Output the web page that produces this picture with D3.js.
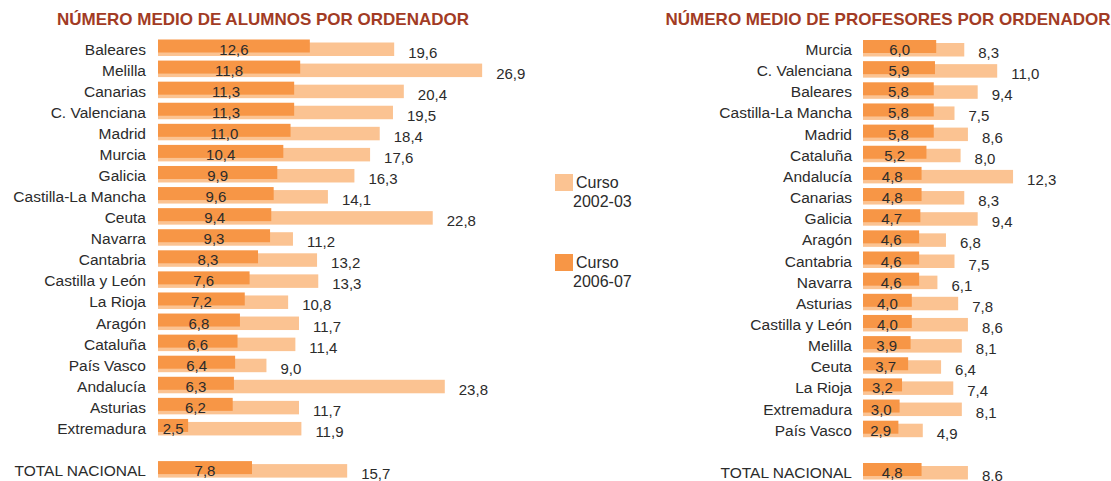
<!DOCTYPE html>
<html>
<head>
<meta charset="utf-8">
<script src="https://cdn.jsdelivr.net/npm/d3@7"></script>
<style>
  body { margin: 0; background: #fff; }
  svg text { font-family: 'Liberation Sans', Arial, sans-serif; fill: #2b2b2b; }
</style>
</head>
<body>
<svg width="1111" height="481"></svg>
<script>
const alumnosRegions = ['Baleares', 'Melilla', 'Canarias', 'C. Valenciana', 'Madrid', 'Murcia', 'Galicia',
  'Castilla-La Mancha', 'Ceuta', 'Navarra', 'Cantabria', 'Castilla y León', 'La Rioja', 'Aragón',
  'Cataluña', 'País Vasco', 'Andalucía', 'Asturias', 'Extremadura']
const alumnos0607 = [12.6, 11.8, 11.3, 11.3, 11.0, 10.4, 9.9, 9.6, 9.4, 9.3, 8.3, 7.6, 7.2, 6.8, 6.6, 6.4, 6.3, 6.2, 2.5]
const alumnos0203 = [19.6, 26.9, 20.4, 19.5, 18.4, 17.6, 16.3, 14.1, 22.8, 11.2, 13.2, 13.3, 10.8, 11.7, 11.4, 9.0, 23.8, 11.7, 11.9]
const alumnosTotal = [7.8, 15.7]

const profesRegions = ['Murcia', 'C. Valenciana', 'Baleares', 'Castilla-La Mancha', 'Madrid', 'Cataluña',
  'Andalucía', 'Canarias', 'Galicia', 'Aragón', 'Cantabria', 'Navarra', 'Asturias', 'Castilla y León',
  'Melilla', 'Ceuta', 'La Rioja', 'Extremadura', 'País Vasco']
const profes0607 = [6.0, 5.9, 5.8, 5.8, 5.8, 5.2, 4.8, 4.8, 4.7, 4.6, 4.6, 4.6, 4.0, 4.0, 3.9, 3.7, 3.2, 3.0, 2.9]
const profes0203 = [8.3, 11.0, 9.4, 7.5, 8.6, 8.0, 12.3, 8.3, 9.4, 6.8, 7.5, 6.1, 7.8, 8.6, 8.1, 6.4, 7.4, 8.1, 4.9]
const profesTotal = [4.8, 8.6]

const seriesNames = ['Curso 2002-03', 'Curso 2006-07']
const totalLabel = 'TOTAL NACIONAL'

const lightColor = '#fbc392'
const darkColor = '#f79646'
const titleColor = '#a23b24'

const svg = d3.select('svg')
const fmt = v => d3.format('.1f')(v).replace('.', ',')

function panel(opts) {
  const rows = opts.regions.map((r, i) => ({ name: r, now: opts.now[i], before: opts.before[i] }))
  rows.push({ name: '__gap' })
  rows.push({ name: totalLabel, now: opts.total[0], before: opts.total[1] })

  const y = d3.scaleBand()
    .domain(rows.map(d => d.name))
    .range([opts.firstBase - opts.step / 2, opts.firstBase + opts.step * 20 + opts.step / 2])
  const x = d3.scaleLinear().domain([0, 10]).range([opts.x0, opts.x0 + opts.pxPerUnit * 10])

  const base = d => y(d.name) + y.bandwidth() / 2

  const g = svg.append('g')
  const data = rows.filter(d => d.name !== '__gap')

  g.append('text')
    .attr('x', opts.titleX)
    .attr('y', 25)
    .attr('text-anchor', 'middle')
    .style('font-size', '17px')
    .style('font-weight', 'bold')
    .style('fill', titleColor)
    .text(opts.title)

  g.selectAll('.cat')
    .data(data)
    .enter()
    .append('text')
    .attr('x', opts.labelX)
    .attr('y', d => base(d))
    .attr('text-anchor', 'end')
    .style('font-size', '15.5px')
    .text(d => d.name)

  g.selectAll('.light')
    .data(data)
    .enter()
    .append('rect')
    .attr('x', x(0))
    .attr('y', d => base(d) - 12)
    .attr('width', d => x(d.before) - x(0))
    .attr('height', 13.5)
    .attr('fill', lightColor)

  g.selectAll('.dark')
    .data(data)
    .enter()
    .append('rect')
    .attr('x', x(0))
    .attr('y', d => base(d) - 15)
    .attr('width', d => x(d.now) - x(0))
    .attr('height', 13)
    .attr('fill', darkColor)

  g.selectAll('.darkval')
    .data(data)
    .enter()
    .append('text')
    .attr('x', d => (x(0) + x(d.now)) / 2)
    .attr('y', d => base(d))
    .attr('text-anchor', 'middle')
    .style('font-size', '15px')
    .text(d => fmt(d.now))

  g.selectAll('.lightval')
    .data(data)
    .enter()
    .append('text')
    .attr('x', d => x(d.before) + 14)
    .attr('y', d => base(d) + 3)
    .style('font-size', '15px')
    .text(d => fmt(d.before))
}

panel({
  title: 'NÚMERO MEDIO DE ALUMNOS POR ORDENADOR',
  titleX: 263,
  regions: alumnosRegions, now: alumnos0607, before: alumnos0203, total: alumnosTotal,
  x0: 158, pxPerUnit: 12.05, labelX: 146, firstBase: 54.5, step: 21.08
})

panel({
  title: 'NÚMERO MEDIO DE PROFESORES POR ORDENADOR',
  titleX: 888,
  regions: profesRegions, now: profes0607, before: profes0203, total: profesTotal,
  x0: 863, pxPerUnit: 12.2, labelX: 852, firstBase: 55, step: 21.15
})

// legend
const legend = svg.append('g')
const legendItems = [
  { name: seriesNames[0], color: lightColor, y: 174 },
  { name: seriesNames[1], color: darkColor, y: 254 }
]
const li = legend.selectAll('g')
  .data(legendItems)
  .enter()
  .append('g')
  .attr('transform', d => 'translate(555,' + d.y + ')')
li.append('rect')
  .attr('width', 18)
  .attr('height', 17)
  .attr('fill', d => d.color)
li.append('text')
  .attr('x', 21)
  .attr('y', 14)
  .style('font-size', '16px')
  .text(d => d.name.split(' ')[0])
li.append('text')
  .attr('x', 18)
  .attr('y', 33)
  .style('font-size', '16px')
  .text(d => d.name.split(' ')[1])
</script>
</body>
</html>
